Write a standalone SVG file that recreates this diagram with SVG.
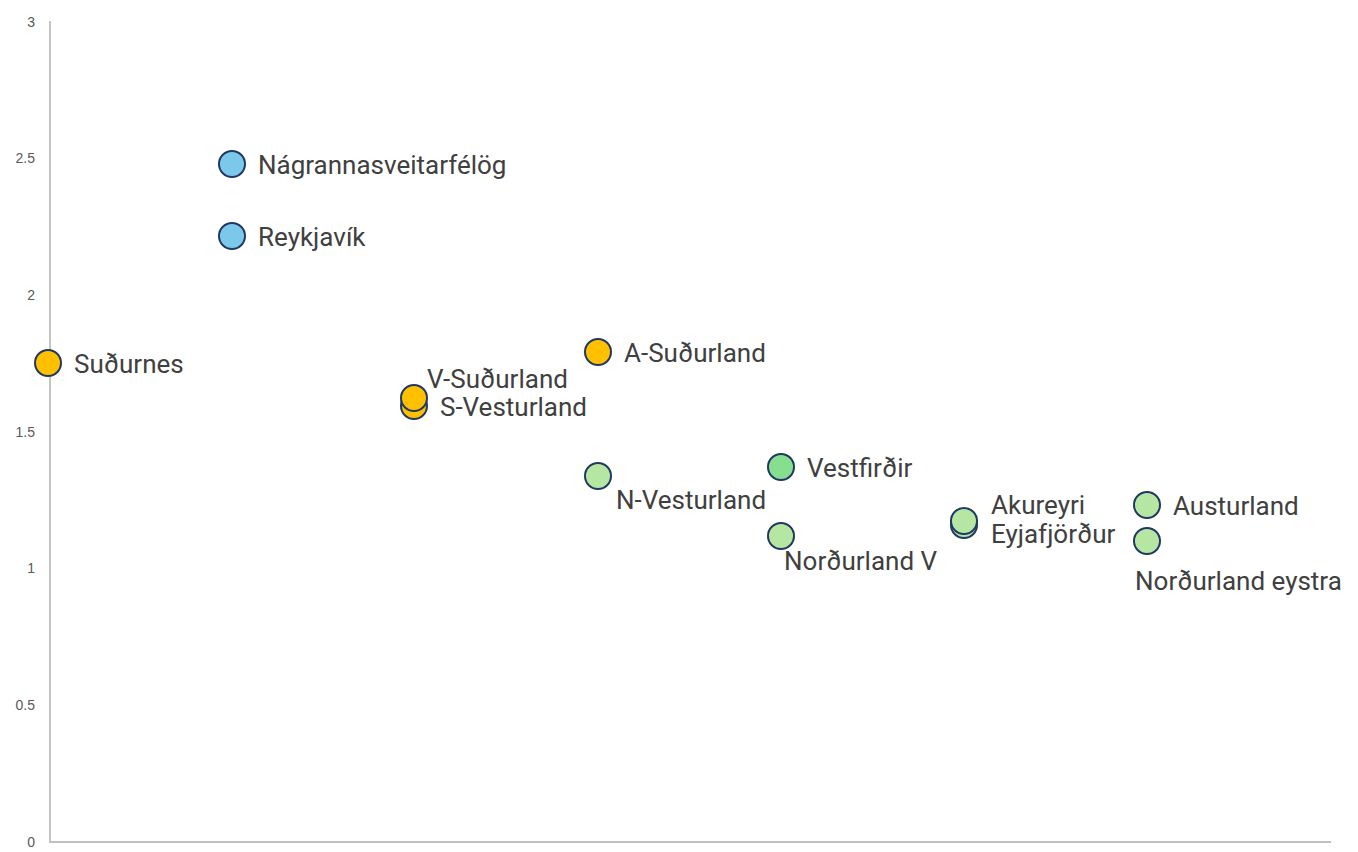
<svg xmlns="http://www.w3.org/2000/svg" width="1358" height="852" viewBox="0 0 1358 852">
<style>
.ax{stroke:#BFBFBF;stroke-width:1.8;fill:none}
.tick{font-family:"Liberation Sans",Arial,sans-serif;font-size:14px;fill:#595959;text-anchor:end}
.lbl{font-family:Roboto,"Liberation Sans",sans-serif;font-size:26px;fill:#404040}
.pt{stroke:#1F3864;stroke-width:2}
.y{fill:#FFC000}
.b{fill:#7CC8EA}
.g{fill:#B5E6A2}
.g2{fill:#86DF8E}
</style>
<rect width="1358" height="852" fill="#FFFFFF"/>
<g id="axes">
<line class="ax" x1="50" y1="21" x2="50" y2="842"/>
<line class="ax" x1="49" y1="842" x2="1331" y2="842"/>
<text class="tick" x="35" y="27">3</text>
<text class="tick" x="35" y="163">2.5</text>
<text class="tick" x="35" y="300">2</text>
<text class="tick" x="35" y="437">1.5</text>
<text class="tick" x="35" y="573">1</text>
<text class="tick" x="35" y="710">0.5</text>
<text class="tick" x="35" y="847">0</text>
</g>
<g id="connectors"></g>
<g id="sudurnes"><circle class="pt y" cx="48" cy="363" r="13"/><text class="lbl" x="74" y="373">Suðurnes</text></g>
<g id="nagrannasveitarfelog"><circle class="pt b" cx="232" cy="164" r="13"/><text class="lbl" x="258" y="174">Nágrannasveitarfélög</text></g>
<g id="reykjavik"><circle class="pt b" cx="232" cy="236" r="13"/><text class="lbl" x="258" y="246">Reykjavík</text></g>
<g id="a-sudurland"><circle class="pt y" cx="598" cy="352" r="13"/><text class="lbl" x="624" y="362">A-Suðurland</text></g>
<g id="s-vesturland"><circle class="pt y" cx="414" cy="406" r="13"/><text class="lbl" x="440" y="416">S-Vesturland</text></g>
<g id="v-sudurland"><circle class="pt y" cx="414" cy="398" r="13"/><text class="lbl" x="427" y="388">V-Suðurland</text></g>
<g id="n-vesturland"><circle class="pt g" cx="598" cy="476" r="13"/><text class="lbl" x="616" y="509">N-Vesturland</text></g>
<g id="vestfirdir"><circle class="pt g2" cx="781" cy="467" r="13"/><text class="lbl" x="807" y="477">Vestfirðir</text></g>
<g id="nordurland-v"><circle class="pt g" cx="781" cy="536" r="13"/><text class="lbl" x="784" y="570">Norðurland V</text></g>
<g id="eyjafjordur"><circle class="pt g" cx="964" cy="525" r="13"/><text class="lbl" x="991" y="543">Eyjafjörður</text></g>
<g id="akureyri"><circle class="pt g" cx="964" cy="521" r="13"/><text class="lbl" x="991" y="514">Akureyri</text></g>
<g id="austurland"><circle class="pt g" cx="1147" cy="505" r="13"/><text class="lbl" x="1173" y="515">Austurland</text></g>
<g id="nordurland-eystra"><circle class="pt g" cx="1147" cy="541" r="13"/><text class="lbl" x="1135" y="590">Norðurland eystra</text></g>
</svg>
